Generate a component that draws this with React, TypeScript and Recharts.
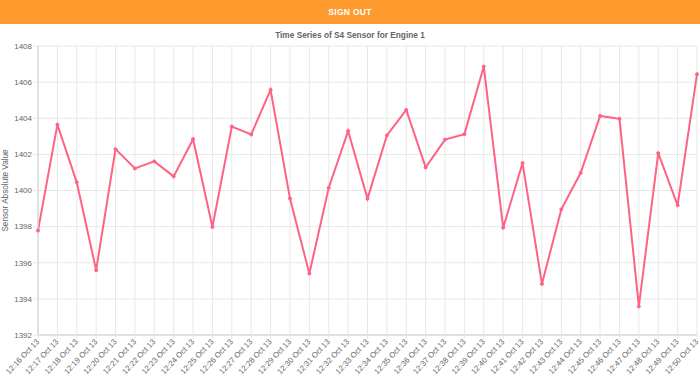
import { CartesianGrid, Line, LineChart, XAxis, YAxis } from 'recharts'

const times = [
  '12:16 Oct 13', '12:17 Oct 13', '12:18 Oct 13', '12:19 Oct 13', '12:20 Oct 13',
  '12:21 Oct 13', '12:22 Oct 13', '12:23 Oct 13', '12:24 Oct 13', '12:25 Oct 13',
  '12:26 Oct 13', '12:27 Oct 13', '12:28 Oct 13', '12:29 Oct 13', '12:30 Oct 13',
  '12:31 Oct 13', '12:32 Oct 13', '12:33 Oct 13', '12:34 Oct 13', '12:35 Oct 13',
  '12:36 Oct 13', '12:37 Oct 13', '12:38 Oct 13', '12:39 Oct 13', '12:40 Oct 13',
  '12:41 Oct 13', '12:42 Oct 13', '12:43 Oct 13', '12:44 Oct 13', '12:45 Oct 13',
  '12:46 Oct 13', '12:47 Oct 13', '12:48 Oct 13', '12:49 Oct 13', '12:50 Oct 13',
]

const s4Values = [
  1397.78, 1403.65, 1400.45, 1395.59, 1402.29, 1401.22, 1401.61, 1400.78, 1402.84, 1397.98,
  1403.54, 1403.1, 1405.57, 1399.56, 1395.4, 1400.15, 1403.29, 1399.55, 1403.05, 1404.46,
  1401.28, 1402.82, 1403.12, 1406.86, 1397.94, 1401.52, 1394.83, 1398.96, 1400.98, 1404.13,
  1403.97, 1393.58, 1402.07, 1399.18, 1406.44,
]

const yTicks = [1392, 1394, 1396, 1398, 1400, 1402, 1404, 1406, 1408]

const data = times.map((t, i) => ({ time: t, s4: s4Values[i] }))

const font = '"Liberation Sans", Arial, Helvetica, sans-serif'

function XTick({ x, y, payload }: any) {
  return (
    <g transform={`translate(${x - 0.5},${y - 1})`}>
      <text x={0} y={0} dy={3} textAnchor="end" fill="#666" fontSize={7.8} fontFamily={font} transform="rotate(-47)">
        {payload.value}
      </text>
    </g>
  )
}

function YLabel({ viewBox }: any) {
  const cx = 7.5
  const cy = viewBox.y + viewBox.height / 2
  return (
    <text x={cx} y={cy} transform={`rotate(-90 ${cx} ${cy})`} textAnchor="middle" fill="#666" fontSize={8.2} fontFamily={font}>
      Sensor Absolute Value
    </text>
  )
}

export default function App() {
  return (
    <div style={{ position: 'absolute', left: 0, top: 0, width: 700, height: 377, background: '#fff', fontFamily: font }}>
      <div style={{ height: 24, background: '#fe9a2e', color: '#fff', fontSize: 8.5, fontWeight: 'bold', textAlign: 'center', lineHeight: '24px', letterSpacing: 0.3 }}>
        SIGN OUT
      </div>
      <div style={{ position: 'absolute', top: 30, left: 0, width: 700, textAlign: 'center', fontSize: 8.3, fontWeight: 'bold', color: '#666' }}>
        Time Series of S4 Sensor for Engine 1
      </div>
      <div style={{ position: 'absolute', top: 0, left: 0 }}>
        <LineChart width={700} height={377} data={data} margin={{ top: 46, right: 3, bottom: 0, left: 0 }}>
          <CartesianGrid stroke="#e8e8e8" vertical horizontal />
          <XAxis
            dataKey="time"
            interval={0}
            height={42}
            tick={<XTick />}
            tickSize={4}
            tickLine={{ stroke: '#e8e8e8' }}
            axisLine={{ stroke: '#d0d0d0' }}
          />
          <YAxis
            domain={[1392, 1408]}
            ticks={yTicks}
            width={38}
            tickSize={5}
            tickMargin={1}
            tickLine={{ stroke: '#e8e8e8' }}
            axisLine={{ stroke: '#d0d0d0' }}
            tick={{ fill: '#666', fontSize: 8, fontFamily: font }}
            label={{ content: <YLabel /> }}
          />
          <Line
            type="linear"
            dataKey="s4"
            stroke="#ff6384"
            strokeWidth={2}
            dot={{ r: 1.5, fill: '#ff6384', stroke: '#ff6384', strokeWidth: 1 }}
            isAnimationActive={false}
          />
        </LineChart>
      </div>
    </div>
  )
}
